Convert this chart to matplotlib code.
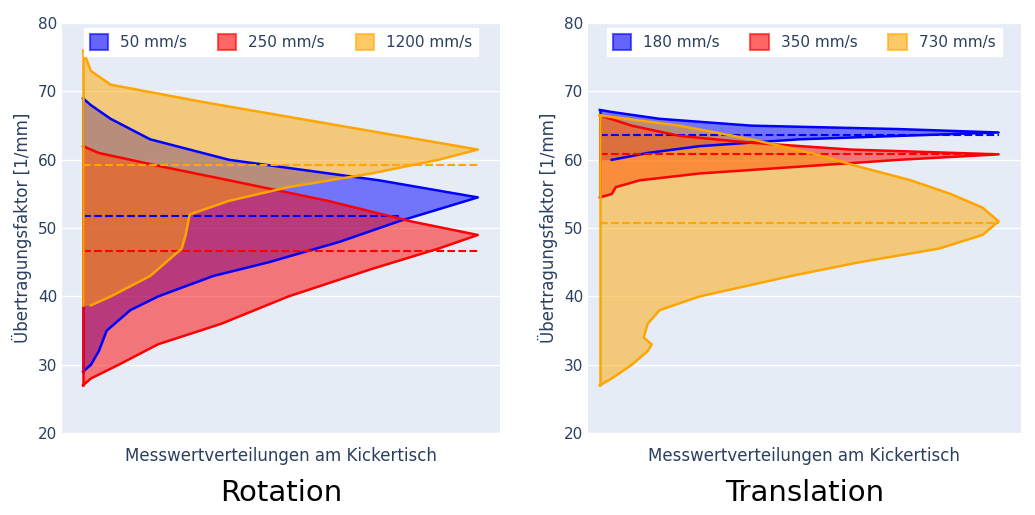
import matplotlib.pyplot as plt
from matplotlib.patches import Patch

# Rotation: y-Werte und relative Dichte (0..1)
rot_50_y = [29, 30, 32, 35, 38, 40, 43, 45, 48, 51, 54.5, 57, 60, 63, 66, 68, 69]
rot_50_w = [0, 0.02, 0.04, 0.06, 0.12, 0.19, 0.33, 0.47, 0.65, 0.8, 1.0, 0.75, 0.37, 0.17, 0.07, 0.02, 0]
rot_250_y = [27, 28, 30, 33, 36, 40, 44, 47, 49, 51, 54, 57, 59, 61, 62]
rot_250_w = [0, 0.02, 0.09, 0.19, 0.35, 0.52, 0.73, 0.9, 1.0, 0.83, 0.62, 0.37, 0.2, 0.04, 0]
rot_1200_y = [38.7, 40, 43, 45, 47, 49, 52, 54, 56, 58, 60, 61.5, 63, 66, 68.5, 71, 73, 76]
rot_1200_w = [0.02, 0.07, 0.17, 0.21, 0.25, 0.26, 0.27, 0.37, 0.52, 0.73, 0.9, 1.0, 0.85, 0.55, 0.3, 0.07, 0.02, 0]
rot_median = [51.8, 46.7, 59.3]

# Translation
tra_180_y = [60, 61, 62, 63, 64, 64.5, 65, 66, 67, 67.3]
tra_180_w = [0.03, 0.12, 0.25, 0.5, 1.0, 0.75, 0.38, 0.15, 0.03, 0]
tra_350_y = [54.5, 55, 56, 57, 58, 59, 60, 60.8, 61.5, 62.5, 63.5, 65, 66.5]
tra_350_w = [0, 0.03, 0.04, 0.1, 0.25, 0.5, 0.75, 1.0, 0.63, 0.38, 0.2, 0.08, 0]
tra_730_y = [27, 28, 30, 32, 33, 34, 36, 38, 40, 43, 45, 47, 49, 51, 53, 55, 57, 59, 61, 63, 65, 66.5]
tra_730_w = [0, 0.03, 0.08, 0.12, 0.13, 0.11, 0.12, 0.15, 0.25, 0.48, 0.65, 0.85, 0.96, 1.0, 0.96, 0.88, 0.78, 0.65, 0.53, 0.38, 0.2, 0]
tra_median = [63.7, 60.8, 50.7]

colors = ['blue', 'red', 'orange']
rot_labels = ['50 mm/s', '250 mm/s', '1200 mm/s']
tra_labels = ['180 mm/s', '350 mm/s', '730 mm/s']

fig = plt.figure(figsize=(10.35, 5.15), dpi=100)
ax1 = fig.add_axes([0.060, 0.159, 0.423, 0.796])
ax2 = fig.add_axes([0.568, 0.159, 0.418, 0.796])

panels = [
    (ax1, [(rot_50_y, rot_50_w), (rot_250_y, rot_250_w), (rot_1200_y, rot_1200_w)], rot_median, rot_labels, 'Rotation', (-0.053, 1.056)),
    (ax2, [(tra_180_y, tra_180_w), (tra_350_y, tra_350_w), (tra_730_y, tra_730_w)], tra_median, tra_labels, 'Translation', (-0.030, 1.055)),
]

for ax, violins, medians, labels, title, xlim in panels:
    ax.set_facecolor('#E5ECF6')
    for (ys, ws), med, c in zip(violins, medians, colors):
        ax.fill_betweenx(ys, 0, ws, color=c, alpha=0.5, linewidth=0)
        ax.plot(ws, ys, color=c, linewidth=1.8)
        ax.plot([0] * 2, [ys[0], ys[-1]], color=c, linewidth=1.8)
        wm = max(w for y, w in zip(ys, ws) if abs(y - med) < 2.5)
        ax.plot([0, wm], [med, med], color=c, linestyle='--', linewidth=1.5)
    ax.set_xlim(*xlim)
    ax.set_ylim(20, 80)
    ax.set_yticks(range(20, 81, 10))
    ax.set_xticks([])
    ax.grid(axis='y', color='white', linewidth=1)
    ax.set_axisbelow(True)
    for s in ax.spines.values():
        s.set_visible(False)
    ax.tick_params(axis='y', length=0, labelsize=11, colors='#2a3f5f')
    ax.set_ylabel('Übertragungsfaktor [1/mm]', fontsize=12, color='#2a3f5f')
    ax.set_xlabel('Messwertverteilungen am Kickertisch', fontsize=12, color='#2a3f5f', labelpad=10)
    handles = [Patch(facecolor=c, alpha=0.6, edgecolor=c, linewidth=1.5) for c in colors]
    leg = ax.legend(handles, labels, loc='upper center', ncol=3, fontsize=11, frameon=True, fancybox=False,
                    bbox_to_anchor=(0.5, 1.0), handlelength=1.2, handleheight=1.2, columnspacing=2.0, borderaxespad=0.3)
    leg.get_frame().set_edgecolor('white')
    leg.get_frame().set_alpha(1)
    for t in leg.get_texts():
        t.set_color('#2a3f5f')
    ax.text(0.5, -0.146, title, transform=ax.transAxes, ha='center', va='center', fontsize=21)

plt.savefig('out.png', dpi=100)
plt.close()
